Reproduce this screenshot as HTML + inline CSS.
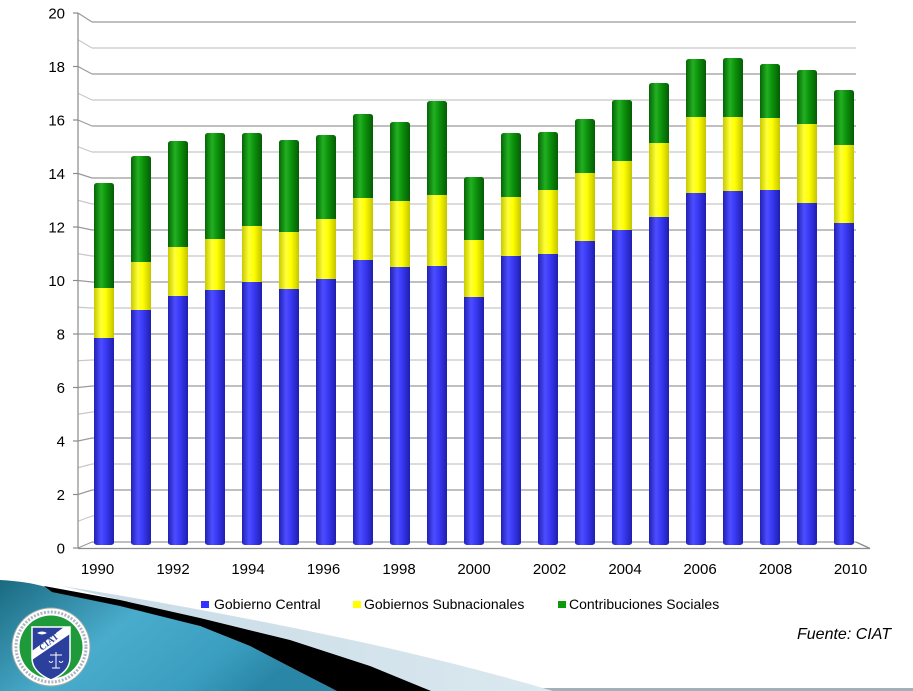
<!DOCTYPE html>
<html><head><meta charset="utf-8"><style>
html,body{margin:0;padding:0;background:#fff;}
svg{display:block;font-family:"Liberation Sans",Arial,sans-serif;}
</style></head><body>
<svg width="913" height="691" viewBox="0 0 913 691" xmlns="http://www.w3.org/2000/svg">
<defs>
<linearGradient id="gB" x1="0" y1="0" x2="1" y2="0">
<stop offset="0" stop-color="#2020b4"/><stop offset="0.35" stop-color="#4d4dff"/><stop offset="0.55" stop-color="#3d3dfa"/><stop offset="1" stop-color="#1e1eb0"/></linearGradient>
<linearGradient id="gY" x1="0" y1="0" x2="1" y2="0">
<stop offset="0" stop-color="#c9c900"/><stop offset="0.35" stop-color="#ffff3a"/><stop offset="0.6" stop-color="#ffff00"/><stop offset="1" stop-color="#c4c400"/></linearGradient>
<linearGradient id="gG" x1="0" y1="0" x2="1" y2="0">
<stop offset="0" stop-color="#056405"/><stop offset="0.35" stop-color="#22b022"/><stop offset="0.6" stop-color="#0d930d"/><stop offset="1" stop-color="#045c04"/></linearGradient>
<linearGradient id="gT" x1="0" y1="0" x2="1" y2="0.4">
<stop offset="0" stop-color="#1a6a80"/><stop offset="0.45" stop-color="#4aaccc"/><stop offset="0.8" stop-color="#3a9ec0"/><stop offset="1" stop-color="#2a86a6"/></linearGradient>
<linearGradient id="gP" x1="0" y1="0" x2="1" y2="0">
<stop offset="0" stop-color="#c7dbe6"/><stop offset="1" stop-color="#dbe8ef"/></linearGradient>
</defs>

<!-- back wall gridlines -->
<g stroke-width="1.2">
<line x1="92" y1="22" x2="856" y2="22" stroke="#9a9a9a"/>
<line x1="92" y1="48" x2="856" y2="48" stroke="#c8c8c8"/>
<line x1="92" y1="74" x2="856" y2="74" stroke="#9a9a9a"/>
<line x1="92" y1="100" x2="856" y2="100" stroke="#c8c8c8"/>
<line x1="92" y1="126" x2="856" y2="126" stroke="#9a9a9a"/>
<line x1="92" y1="152" x2="856" y2="152" stroke="#c8c8c8"/>
<line x1="92" y1="178" x2="856" y2="178" stroke="#9a9a9a"/>
<line x1="92" y1="204" x2="856" y2="204" stroke="#c8c8c8"/>
<line x1="92" y1="230" x2="856" y2="230" stroke="#9a9a9a"/>
<line x1="92" y1="256" x2="856" y2="256" stroke="#c8c8c8"/>
<line x1="92" y1="282" x2="856" y2="282" stroke="#9a9a9a"/>
<line x1="92" y1="308" x2="856" y2="308" stroke="#c8c8c8"/>
<line x1="92" y1="334" x2="856" y2="334" stroke="#9a9a9a"/>
<line x1="92" y1="360" x2="856" y2="360" stroke="#c8c8c8"/>
<line x1="92" y1="386" x2="856" y2="386" stroke="#9a9a9a"/>
<line x1="92" y1="412" x2="856" y2="412" stroke="#c8c8c8"/>
<line x1="92" y1="438" x2="856" y2="438" stroke="#9a9a9a"/>
<line x1="92" y1="464" x2="856" y2="464" stroke="#c8c8c8"/>
<line x1="92" y1="490" x2="856" y2="490" stroke="#9a9a9a"/>
<line x1="92" y1="516" x2="856" y2="516" stroke="#c8c8c8"/>
<line x1="92" y1="542" x2="856" y2="542" stroke="#9a9a9a"/>
</g>
<!-- left wall diagonals -->
<g stroke-width="1.2">
<line x1="78" y1="13" x2="92" y2="22" stroke="#9a9a9a"/>
<line x1="78" y1="39.75" x2="92" y2="48" stroke="#c8c8c8"/>
<line x1="78" y1="66.5" x2="92" y2="74" stroke="#9a9a9a"/>
<line x1="78" y1="93.25" x2="92" y2="100" stroke="#c8c8c8"/>
<line x1="78" y1="120" x2="92" y2="126" stroke="#9a9a9a"/>
<line x1="78" y1="146.75" x2="92" y2="152" stroke="#c8c8c8"/>
<line x1="78" y1="173.5" x2="92" y2="178" stroke="#9a9a9a"/>
<line x1="78" y1="200.25" x2="92" y2="204" stroke="#c8c8c8"/>
<line x1="78" y1="227" x2="92" y2="230" stroke="#9a9a9a"/>
<line x1="78" y1="253.75" x2="92" y2="256" stroke="#c8c8c8"/>
<line x1="78" y1="280.5" x2="92" y2="282" stroke="#9a9a9a"/>
<line x1="78" y1="307.25" x2="92" y2="308" stroke="#c8c8c8"/>
<line x1="78" y1="334" x2="92" y2="334" stroke="#9a9a9a"/>
<line x1="78" y1="360.75" x2="92" y2="360" stroke="#c8c8c8"/>
<line x1="78" y1="387.5" x2="92" y2="386" stroke="#9a9a9a"/>
<line x1="78" y1="414.25" x2="92" y2="412" stroke="#c8c8c8"/>
<line x1="78" y1="441" x2="92" y2="438" stroke="#9a9a9a"/>
<line x1="78" y1="467.75" x2="92" y2="464" stroke="#c8c8c8"/>
<line x1="78" y1="494.5" x2="92" y2="490" stroke="#9a9a9a"/>
<line x1="78" y1="521.25" x2="92" y2="516" stroke="#c8c8c8"/>
<line x1="78" y1="548" x2="92" y2="542" stroke="#9a9a9a"/>
</g>
<!-- axis line + ticks -->
<g stroke="#8a8a8a" stroke-width="1.2">
<line x1="78" y1="13" x2="78" y2="548"/>
<line x1="73" y1="13" x2="78" y2="13"/><line x1="73" y1="66.5" x2="78" y2="66.5"/>
<line x1="73" y1="120" x2="78" y2="120"/><line x1="73" y1="173.5" x2="78" y2="173.5"/>
<line x1="73" y1="227" x2="78" y2="227"/><line x1="73" y1="280.5" x2="78" y2="280.5"/>
<line x1="73" y1="334" x2="78" y2="334"/><line x1="73" y1="387.5" x2="78" y2="387.5"/>
<line x1="73" y1="441" x2="78" y2="441"/><line x1="73" y1="494.5" x2="78" y2="494.5"/>
<line x1="73" y1="548" x2="78" y2="548"/>
</g>

<!-- bars: green (extended), blue (extended), yellow -->
<g>
<rect x="94" y="183" width="20" height="109" rx="3" ry="2.5" fill="url(#gG)"/><rect x="94" y="334" width="20" height="211" rx="3" ry="2.5" fill="url(#gB)"/><rect x="94" y="288" width="20" height="50" fill="url(#gY)"/>
<rect x="131" y="156" width="20" height="110" rx="3" ry="2.5" fill="url(#gG)"/><rect x="131" y="306" width="20" height="239" rx="3" ry="2.5" fill="url(#gB)"/><rect x="131" y="262" width="20" height="48" fill="url(#gY)"/>
<rect x="168" y="141" width="20" height="110" rx="3" ry="2.5" fill="url(#gG)"/><rect x="168" y="292" width="20" height="253" rx="3" ry="2.5" fill="url(#gB)"/><rect x="168" y="247" width="20" height="49" fill="url(#gY)"/>
<rect x="205" y="133" width="20" height="110" rx="3" ry="2.5" fill="url(#gG)"/><rect x="205" y="286" width="20" height="259" rx="3" ry="2.5" fill="url(#gB)"/><rect x="205" y="239" width="20" height="51" fill="url(#gY)"/>
<rect x="242" y="133" width="20" height="97" rx="3" ry="2.5" fill="url(#gG)"/><rect x="242" y="278" width="20" height="267" rx="3" ry="2.5" fill="url(#gB)"/><rect x="242" y="226" width="20" height="56" fill="url(#gY)"/>
<rect x="279" y="140" width="20" height="96" rx="3" ry="2.5" fill="url(#gG)"/><rect x="279" y="285" width="20" height="260" rx="3" ry="2.5" fill="url(#gB)"/><rect x="279" y="232" width="20" height="57" fill="url(#gY)"/>
<rect x="316" y="135" width="20" height="88" rx="3" ry="2.5" fill="url(#gG)"/><rect x="316" y="275" width="20" height="270" rx="3" ry="2.5" fill="url(#gB)"/><rect x="316" y="219" width="20" height="60" fill="url(#gY)"/>
<rect x="353" y="114" width="20" height="88" rx="3" ry="2.5" fill="url(#gG)"/><rect x="353" y="256" width="20" height="289" rx="3" ry="2.5" fill="url(#gB)"/><rect x="353" y="198" width="20" height="62" fill="url(#gY)"/>
<rect x="390" y="122" width="20" height="83" rx="3" ry="2.5" fill="url(#gG)"/><rect x="390" y="263" width="20" height="282" rx="3" ry="2.5" fill="url(#gB)"/><rect x="390" y="201" width="20" height="66" fill="url(#gY)"/>
<rect x="427" y="101" width="20" height="98" rx="3" ry="2.5" fill="url(#gG)"/><rect x="427" y="262" width="20" height="283" rx="3" ry="2.5" fill="url(#gB)"/><rect x="427" y="195" width="20" height="71" fill="url(#gY)"/>
<rect x="464" y="177" width="20" height="67" rx="3" ry="2.5" fill="url(#gG)"/><rect x="464" y="293" width="20" height="252" rx="3" ry="2.5" fill="url(#gB)"/><rect x="464" y="240" width="20" height="57" fill="url(#gY)"/>
<rect x="501" y="133" width="20" height="68" rx="3" ry="2.5" fill="url(#gG)"/><rect x="501" y="252" width="20" height="293" rx="3" ry="2.5" fill="url(#gB)"/><rect x="501" y="197" width="20" height="59" fill="url(#gY)"/>
<rect x="538" y="132" width="20" height="62" rx="3" ry="2.5" fill="url(#gG)"/><rect x="538" y="250" width="20" height="295" rx="3" ry="2.5" fill="url(#gB)"/><rect x="538" y="190" width="20" height="64" fill="url(#gY)"/>
<rect x="575" y="119" width="20" height="58" rx="3" ry="2.5" fill="url(#gG)"/><rect x="575" y="237" width="20" height="308" rx="3" ry="2.5" fill="url(#gB)"/><rect x="575" y="173" width="20" height="68" fill="url(#gY)"/>
<rect x="612" y="100" width="20" height="65" rx="3" ry="2.5" fill="url(#gG)"/><rect x="612" y="226" width="20" height="319" rx="3" ry="2.5" fill="url(#gB)"/><rect x="612" y="161" width="20" height="69" fill="url(#gY)"/>
<rect x="649" y="83" width="20" height="64" rx="3" ry="2.5" fill="url(#gG)"/><rect x="649" y="213" width="20" height="332" rx="3" ry="2.5" fill="url(#gB)"/><rect x="649" y="143" width="20" height="74" fill="url(#gY)"/>
<rect x="686" y="59" width="20" height="62" rx="3" ry="2.5" fill="url(#gG)"/><rect x="686" y="189" width="20" height="356" rx="3" ry="2.5" fill="url(#gB)"/><rect x="686" y="117" width="20" height="76" fill="url(#gY)"/>
<rect x="723" y="58" width="20" height="63" rx="3" ry="2.5" fill="url(#gG)"/><rect x="723" y="187" width="20" height="358" rx="3" ry="2.5" fill="url(#gB)"/><rect x="723" y="117" width="20" height="74" fill="url(#gY)"/>
<rect x="760" y="64" width="20" height="58" rx="3" ry="2.5" fill="url(#gG)"/><rect x="760" y="186" width="20" height="359" rx="3" ry="2.5" fill="url(#gB)"/><rect x="760" y="118" width="20" height="72" fill="url(#gY)"/>
<rect x="797" y="70" width="20" height="58" rx="3" ry="2.5" fill="url(#gG)"/><rect x="797" y="199" width="20" height="346" rx="3" ry="2.5" fill="url(#gB)"/><rect x="797" y="124" width="20" height="79" fill="url(#gY)"/>
<rect x="834" y="90" width="20" height="59" rx="3" ry="2.5" fill="url(#gG)"/><rect x="834" y="219" width="20" height="326" rx="3" ry="2.5" fill="url(#gB)"/><rect x="834" y="145" width="20" height="78" fill="url(#gY)"/>
</g>

<!-- floor front edge -->
<g stroke="#8a8a8a" stroke-width="1.3">
<line x1="78" y1="548.5" x2="870" y2="548.5"/>
<line x1="856" y1="542" x2="870" y2="548.5"/>
</g>

<!-- y labels -->
<g font-size="15" text-anchor="end" fill="#000">
<text x="65" y="18.5">20</text>
<text x="65" y="72">18</text>
<text x="65" y="125.5">16</text>
<text x="65" y="179">14</text>
<text x="65" y="232.5">12</text>
<text x="65" y="286">10</text>
<text x="65" y="339.5">8</text>
<text x="65" y="393">6</text>
<text x="65" y="446.5">4</text>
<text x="65" y="500">2</text>
<text x="65" y="553.5">0</text>
</g>
<!-- x labels -->
<g font-size="15" text-anchor="middle" fill="#000">
<text x="97.5" y="574">1990</text>
<text x="173" y="574">1992</text>
<text x="248" y="574">1994</text>
<text x="323.5" y="574">1996</text>
<text x="399" y="574">1998</text>
<text x="474" y="574">2000</text>
<text x="549.5" y="574">2002</text>
<text x="625" y="574">2004</text>
<text x="700" y="574">2006</text>
<text x="775.5" y="574">2008</text>
<text x="850.5" y="574">2010</text>
</g>

<!-- bottom gray line -->
<rect x="0" y="688" width="913" height="3" fill="#a3afb9"/>

<!-- swoosh -->
<path d="M62,586 C150,600 250,618 370,644 C450,662 510,678 553,691 L431,691 L370,666 L290,640 L200,618 L120,600 Z" fill="url(#gP)"/>
<path d="M0,580 C18,581 32,583 46,587 L120,604 L200,626 L250,646 L296,670 L337,691 L0,691 Z" fill="url(#gT)"/>
<path d="M44,586 L120,600 L200,618 L290,640 L370,666 L431,691 L337,691 L296,670 L250,646 L200,626 L120,606 L52,592 Z" fill="#000"/>

<!-- logo -->
<g>
<circle cx="51" cy="647" r="39" fill="#fff" stroke="#9aa" stroke-width="1"/>
<circle cx="51" cy="647" r="35" fill="none" stroke="#6a7a8a" stroke-width="3" stroke-dasharray="2 1.5" opacity="0.55"/>
<circle cx="51" cy="647" r="31.5" fill="#1f9a3a"/>
<path d="M32,627 L70,627 L70,658 Q70,672 51,680 Q32,672 32,658 Z" fill="#2b3f9c" stroke="#fff" stroke-width="1.5"/>
<path d="M32,660 L32,651 L64,627 L70,627 L70,634 Z" fill="#fff"/>
<text x="0" y="0" font-size="9" font-weight="bold" font-family="'Liberation Serif',serif" fill="#2b3f9c" transform="translate(42,651) rotate(-38)">CIAT</text>
<path d="M37,633 q5,-3 10,0 q-5,3 -10,0 z" fill="#fff"/>
<g stroke="#fff" stroke-width="1" fill="none">
<line x1="56" y1="652" x2="56" y2="668"/><line x1="50" y1="655" x2="62" y2="655"/>
<path d="M49,661 q2,3 4,0 M59,661 q2,3 4,0"/><line x1="52" y1="668" x2="60" y2="668"/>
</g>
</g>

<!-- legend -->
<rect x="201" y="601" width="8" height="7" fill="#3333ff"/>
<text x="214" y="609" font-size="14" fill="#000">Gobierno Central</text>
<rect x="353" y="601" width="8" height="7" fill="#ffff00"/>
<text x="364" y="609" font-size="14" fill="#000">Gobiernos Subnacionales</text>
<rect x="558" y="601" width="8" height="7" fill="#0a9a0a"/>
<text x="569" y="609" font-size="14" fill="#000">Contribuciones Sociales</text>

<text x="797" y="639" font-size="16" font-style="italic" fill="#000">Fuente: CIAT</text>
</svg>
</body></html>
